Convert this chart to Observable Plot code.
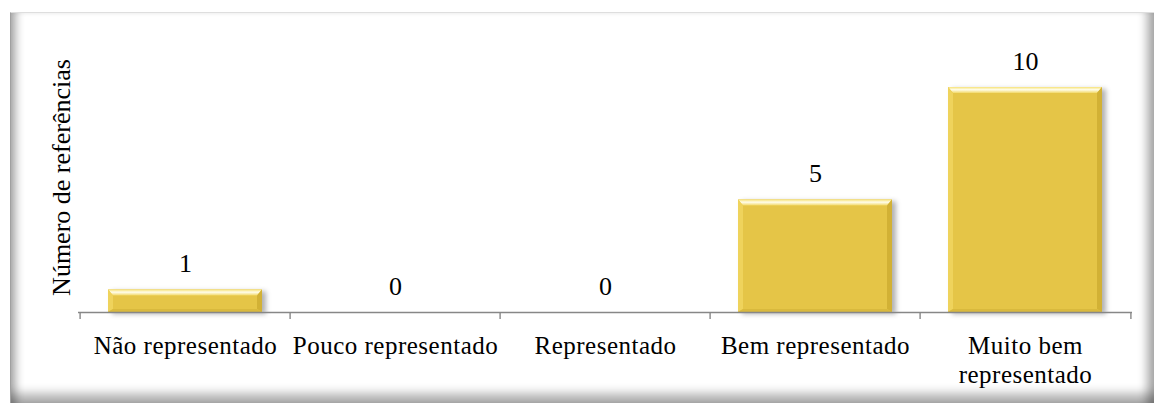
<!DOCTYPE html>
<html>
<head>
<meta charset="utf-8">
<script src="https://cdn.jsdelivr.net/npm/d3@7"></script>
<script src="https://cdn.jsdelivr.net/npm/@observablehq/plot@0.6"></script>
<style>
  html, body { margin: 0; padding: 0; background: #ffffff; }
  #wrap { position: relative; width: 1154px; height: 403px; overflow: hidden; }
  #frame {
    position: absolute; left: 10px; top: 12px; width: 1144px; height: 391px;
    box-sizing: border-box;
    border-top: 1px solid #dedede;
    border-left: 1px solid #a0a0a0;
    box-shadow:
      inset 11px 0 9px -6px rgba(0,0,0,0.32),
      inset -13px 0 10px -6px rgba(0,0,0,0.33),
      inset 0 -15px 11px -6px rgba(0,0,0,0.33);
  }
  #chart { position: absolute; left: 0; top: 0; }
  #chart svg, #chart svg text {
    font-family: "Liberation Serif", "Times New Roman", "DejaVu Serif", serif !important;
  }
</style>
</head>
<body>
<div id="wrap">
  <div id="frame"></div>
  <div id="chart"></div>
</div>
<script>
// Avaliação: número de referências por nível de representação
const categories = ["Não representado", "Pouco representado", "Representado", "Bem representado", "Muito bem representado"];
const tickLabels = ["Não representado", "Pouco representado", "Representado", "Bem representado", "Muito bem\nrepresentado"];
const values = [1, 0, 0, 5, 10];
const yTitle = "Número de referências";

const data = categories.map((c, i) => ({cat: c, val: values[i]}));
const labelOf = new Map(categories.map((c, i) => [c, tickLabels[i]]));

const serif = "'Liberation Serif', 'Times New Roman', serif";
const W = 1154, H = 403;
const mL = 78, mR = 22, mT = 42, mB = 91;
const step = (W - mL - mR) / categories.length;

const plot = Plot.plot({
  width: W,
  height: H,
  marginLeft: mL,
  marginRight: mR,
  marginTop: mT,
  marginBottom: mB,
  style: {
    fontFamily: serif,
    fontSize: "25px",
    color: "#000",
    background: "transparent",
    overflow: "visible"
  },
  x: {domain: categories, padding: 0, label: null},
  y: {domain: [0, 12], axis: null},
  marks: [
    Plot.barY(data, {x: "cat", y: "val", fill: "#E5C546", insetLeft: 28, insetRight: 28}),
    Plot.ruleY([0], {stroke: "#878787", strokeWidth: 1.4}),
    // category separators below the baseline
    Plot.ruleX(categories, {x: d => d, y1: 0, y2: 0, insetBottom: -7, dx: -step / 2, stroke: "#878787", strokeWidth: 1.4}),
    Plot.ruleX(categories.slice(-1), {x: d => d, y1: 0, y2: 0, insetBottom: -7, dx: step / 2, stroke: "#878787", strokeWidth: 1.4}),
    Plot.text(data, {x: "cat", y: "val", text: d => String(d.val), lineAnchor: "bottom", dy: -18, fontSize: 26, fontFamily: serif, fill: "#000"}),
    Plot.axisX({tickSize: 0, tickPadding: 21, fontSize: 25, fontFamily: serif, lineHeight: 1.15, tickFormat: d => labelOf.get(d), label: null, fill: "#000"}),
    Plot.text([yTitle], {frameAnchor: "left", textAnchor: "middle", rotate: -90, dx: -17, fontSize: 26, fontFamily: serif, fill: "#000"})
  ]
});

document.getElementById("chart").appendChild(plot);

const svg = d3.select(plot);
svg.selectAll("g[aria-label='x-axis tick label'] text").style("letter-spacing", "0.5px");

// Bevel and shadow on the bars
const defs = svg.insert("defs", ":first-child");
const shadow = defs.append("filter").attr("id", "barShadow")
  .attr("x", "-10%").attr("y", "-10%").attr("width", "130%").attr("height", "130%");
shadow.append("feDropShadow").attr("dx", 4).attr("dy", 2).attr("stdDeviation", 2.5)
  .attr("flood-color", "#000").attr("flood-opacity", 0.3);

const topGrad = defs.append("linearGradient").attr("id", "bevelTop")
  .attr("x1", 0).attr("y1", 0).attr("x2", 0).attr("y2", 1);
topGrad.append("stop").attr("offset", 0).attr("stop-color", "#F6E277");
topGrad.append("stop").attr("offset", 0.45).attr("stop-color", "#FFFDEB");
topGrad.append("stop").attr("offset", 1).attr("stop-color", "#F2D968");

const barGroup = svg.select("g[aria-label='bar']").attr("filter", "url(#barShadow)");
barGroup.selectAll("rect").each(function () {
  const r = d3.select(this);
  const x = +r.attr("x"), y = +r.attr("y"), w = +r.attr("width"), h = +r.attr("height");
  if (!(h > 0)) return;
  const b = Math.min(6, h / 3);
  const bs = Math.min(5, h / 3);
  const poly = (pts, fill) => barGroup.append("polygon")
    .attr("points", pts.map(p => p.join(",")).join(" "))
    .attr("fill", fill);
  poly([[x, y], [x + w, y], [x + w - bs, y + b], [x + bs, y + b]], "url(#bevelTop)");
  poly([[x, y], [x + bs, y + b], [x + bs, y + h - b / 2], [x, y + h]], "#EFD35C");
  poly([[x + w, y], [x + w, y + h], [x + w - bs, y + h - b / 2], [x + w - bs, y + b]], "#D2B136");
  poly([[x, y + h], [x + bs, y + h - b / 2], [x + w - bs, y + h - b / 2], [x + w, y + h]], "#D9B93E");
});
</script>
</body>
</html>
